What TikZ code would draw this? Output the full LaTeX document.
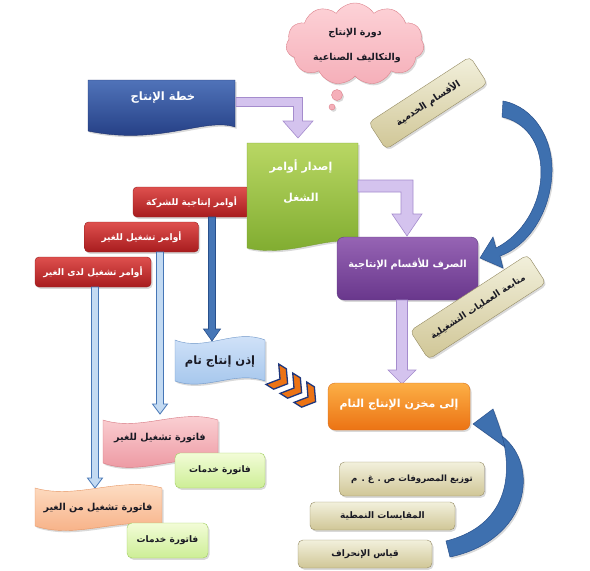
\documentclass[tikz,border=0pt]{standalone}
\usepackage{fontspec}
\newfontfamily\arfont[Script=Arabic]{DejaVu Sans}
\TeXXeTstate=1
\usetikzlibrary{shapes.symbols,shadows,calc}
\newcommand\AR[1]{\beginR #1\endR}
\definecolor{redT}{RGB}{222,80,78}\definecolor{redB}{RGB}{168,28,30}\definecolor{redD}{RGB}{150,30,30}
\definecolor{purT}{RGB}{150,100,180}\definecolor{purB}{RGB}{105,55,140}\definecolor{purD}{RGB}{95,60,130}
\definecolor{oraT}{RGB}{252,175,70}\definecolor{oraB}{RGB}{236,115,20}\definecolor{oraD}{RGB}{215,110,30}
\definecolor{grnT}{RGB}{185,215,100}\definecolor{grnB}{RGB}{125,170,45}\definecolor{grnD}{RGB}{120,160,50}
\definecolor{plaT}{RGB}{80,115,185}\definecolor{plaB}{RGB}{30,55,125}\definecolor{plaD}{RGB}{30,50,110}
\definecolor{lbT}{RGB}{215,230,250}\definecolor{lbB}{RGB}{160,195,235}\definecolor{lbD}{RGB}{110,150,200}
\definecolor{pkT}{RGB}{252,215,218}\definecolor{pkB}{RGB}{235,145,155}\definecolor{pkD}{RGB}{215,120,130}
\definecolor{peT}{RGB}{254,228,205}\definecolor{peB}{RGB}{246,170,125}\definecolor{peD}{RGB}{230,150,100}
\definecolor{lgT}{RGB}{242,252,215}\definecolor{lgB}{RGB}{205,238,150}\definecolor{lgD}{RGB}{160,205,95}
\definecolor{tnT}{RGB}{242,240,220}\definecolor{tnB}{RGB}{208,198,150}\definecolor{tnD}{RGB}{150,140,100}
\definecolor{clT}{RGB}{253,210,215}\definecolor{clB}{RGB}{245,175,185}\definecolor{clD}{RGB}{220,130,140}
\definecolor{lavF}{RGB}{212,195,238}\definecolor{lavD}{RGB}{165,140,205}
\definecolor{arcF}{RGB}{62,112,175}\definecolor{arcD}{RGB}{40,80,140}
\definecolor{dkA}{RGB}{70,118,182}\definecolor{liA}{RGB}{195,218,242}
\definecolor{txt}{RGB}{25,25,35}
\newcommand\blockdown[6]{% style, from, to, shaft half, head half, head length
  \path[#1] let \p1=(#2), \p2=(#3) in
    (\x2-#4,\y1) -- (\x2+#4,\y1) -- (\x2+#4,\y2+#6) -- (\x2+#5,\y2+#6) -- (\x2,\y2)
    -- (\x2-#5,\y2+#6) -- (\x2-#4,\y2+#6) -- cycle;}
\newcommand\blockbent[6]{% style, from, to, shaft half, head half, head length
  \path[#1] let \p1=(#2), \p2=(#3) in
    (\x1,\y1+#4) -- (\x2+#4,\y1+#4) -- (\x2+#4,\y2+#6) -- (\x2+#5,\y2+#6) -- (\x2,\y2)
    -- (\x2-#5,\y2+#6) -- (\x2-#4,\y2+#6) -- (\x2-#4,\y1-#4) -- (\x1,\y1-#4) -- cycle;}
\tikzset{
  shd/.style={drop shadow={opacity=0.3,shadow xshift=1.5pt,shadow yshift=-1.8pt}},
  fs/.style={font=\arfont\bfseries\fontsize{#1}{#1}\selectfont},
  artxt/.style={fs=9, text=txt, inner sep=0pt},
  wtxt/.style={artxt, text=white},
  redbox/.style={rounded corners=4pt, draw=redD, top color=redT, bottom color=redB, minimum height=30pt, shd, wtxt},
  purbox/.style={rounded corners=7pt, draw=purD, top color=purT, bottom color=purB, shd, wtxt},
  orabox/.style={rounded corners=7pt, draw=oraD, top color=oraT, bottom color=oraB, shd, wtxt},
  lgbox/.style={rounded corners=5pt, draw=lgD, top color=lgT, bottom color=lgB, shd, artxt},
  tanbox/.style={rounded corners=5pt, draw=tnD, top color=tnT, bottom color=tnB, shd, artxt},
  lav/.style={fill=lavF, draw=lavD, line width=0.6pt},
  darkarrow/.style={fill=dkA, draw=arcD, line width=0.6pt},
  lightarrow/.style={fill=liA, draw=dkA, line width=0.8pt},
  arc/.style={fill=arcF, draw=arcD, line width=0.5pt},
  chev/.style={fill=oraB, draw=plaB, line width=1.3pt, line join=miter},
}
\begin{document}
\begin{tikzpicture}[x=1pt,y=-1pt]
\useasboundingbox (0,0) rectangle (590,571);
% cloud
\node[cloud, cloud puffs=11, cloud puff arc=115, aspect=1.7, minimum width=138pt, minimum height=82pt,
      draw=clD, top color=clT, bottom color=clB, shd] (cloud) at (355,44) {};
\node[circle, minimum size=11pt, inner sep=0pt, draw=clD, fill=clB, shd] (bub1) at (337,95) {};
\node[circle, minimum size=6pt, inner sep=0pt, draw=clD, fill=clB, shd] (bub2) at (332,107) {};
\node[artxt, fs=9.5] (cl1) at (355,33) {\AR{دورة الإنتاج}};
\node[artxt, fs=9.5] (cl2) at (357,58) {\AR{والتكاليف الصناعية}};
% plan document
\path[draw=plaD, top color=plaT, bottom color=plaB, shd]
  (88,80) -- (235,80) -- (235,127) .. controls (205,117) and (160,146) .. (88,131) -- cycle;
\node[wtxt, fs=11.5] (plan) at (163,98) {\AR{خطة الإنتاج}};
\coordinate (a1s) at (236,102);
\coordinate (a1t) at (298,138);
\blockbent{lav}{a1s}{a1t}{4.5pt}{15pt}{17pt}
% red boxes
\node[redbox, minimum width=117pt] (r1) at (191.5,202) {\AR{أوامر إنتاجية للشركة}};
\node[redbox, minimum width=114pt] (r2) at (141.5,237) {\AR{أوامر تشغيل للغير}};
\node[redbox, minimum width=116pt] (r3) at (93,272) {\AR{أوامر تشغيل لدى الغير}};
% green document
\path[draw=grnD, top color=grnT, bottom color=grnB, shd]
  (247,143) -- (358,143) -- (358,243) .. controls (330,234) and (290,258) .. (247,248) -- cycle;
\node[wtxt, fs=11] (g1) at (301,166) {\AR{إصدار أوامر}};
\node[wtxt, fs=11] (g2) at (301,198) {\AR{الشغل}};
\coordinate (a2s) at (358,186);
\coordinate (a2t) at (407,236);
\blockbent{lav}{a2s}{a2t}{6pt}{15pt}{22pt}
% tilted tan 1
\node[tanbox, fs=9.5, rotate=33, minimum width=121pt, minimum height=32pt] (t1) at (428,103) {\AR{الأقسام الخدمية}};
% purple box
\node[purbox, minimum width=141pt, minimum height=63pt] (pur) at (407.5,268.5) {};
\node[wtxt, fs=9.8] (purt) at (407.5,264) {\AR{الصرف للأقسام الإنتاجية}};
% top blue arc
\path[arc, shd] (503,101) .. controls (535,107) and (553,140) .. (552,172)
  .. controls (551,210) and (530,245) .. (500,256)
  -- (503,268) -- (480,258) -- (493,237) -- (496,248)
  .. controls (522,235) and (541,205) .. (541,172)
  .. controls (541,142) and (525,122) .. (502,117) -- cycle;
% lavender down arrow
\coordinate (a3s) at (402,300);
\coordinate (a3t) at (402,384);
\blockdown{lav}{a3s}{a3t}{5.5pt}{14pt}{14pt}
% tilted tan 2
\node[tanbox, fs=9, rotate=33, minimum width=140pt, minimum height=34pt] (t2) at (478,307) {\AR{متابعة العمليات التشغيلية}};
% blue vertical arrows
\coordinate (vAs) at (212,217);\coordinate (vAt) at (212,341);
\coordinate (vBs) at (160,252);\coordinate (vBt) at (160,414);
\coordinate (vCs) at (95,287);\coordinate (vCt) at (95,488);
\blockdown{darkarrow}{vAs}{vAt}{3.5pt}{8.5pt}{12pt}
\blockdown{lightarrow}{vBs}{vBt}{3.5pt}{7.5pt}{10pt}
\blockdown{lightarrow}{vCs}{vCt}{3.5pt}{7.5pt}{10pt}
% light blue wave
\path[draw=lbD, top color=lbT, bottom color=lbB, shd]
  (175,340) .. controls (205,352) and (235,328) .. (265,340) -- (265,381)
  .. controls (235,370) and (205,392) .. (175,381) -- cycle;
\node[artxt, fs=11.5] (permit) at (220,362) {\AR{إذن إنتاج تام}};
% chevrons
\foreach \i/\cx/\cy in {1/280/379, 2/294/388, 3/308/397}{
  \draw[chev, shift={(\cx,\cy)}, rotate=-32] (-9,-12) -- (0,-12) -- (9,0) -- (0,12) -- (-9,12) -- (0,0) -- cycle;
}
% orange box
\node[orabox, minimum width=142pt, minimum height=47pt] (store) at (399,406.5) {};
\node[wtxt, fs=11] (storet) at (399,405) {\AR{إلى مخزن الإنتاج التام}};
% pink wave
\path[draw=pkD, top color=pkT, bottom color=pkB, shd]
  (103,420) .. controls (141,432) and (180,408) .. (218,420) -- (218,463)
  .. controls (180,452) and (141,477) .. (103,463) -- cycle;
\node[artxt, fs=9.6] (inv1) at (160,438) {\AR{فاتورة تشغيل للغير}};
\node[lgbox, minimum width=90pt, minimum height=35pt] (srv1) at (220,470.5) {\AR{فاتورة خدمات}};
% peach wave
\path[draw=peD, top color=peT, bottom color=peB, shd]
  (35,488) .. controls (77,500) and (120,476) .. (162,488) -- (162,526)
  .. controls (120,516) and (77,540) .. (35,526) -- cycle;
\node[artxt, fs=9.6] (inv2) at (98,508) {\AR{فاتورة تشغيل من الغير}};
\node[lgbox, minimum width=81pt, minimum height=35pt] (srv2) at (167.5,540.5) {\AR{فاتورة خدمات}};
% tan boxes
\node[tanbox, fs=8.6, minimum width=145pt, minimum height=34pt] (tb1) at (412,479) {\AR{توزيع المصروفات ص . غ . م}};
\node[tanbox, minimum width=145pt, minimum height=28pt] (tb2) at (382.5,516) {\AR{المقايسات النمطية}};
\node[tanbox, minimum width=134pt, minimum height=28pt] (tb3) at (365,554) {\AR{قياس الإنحراف}};
% bottom blue arc
\path[arc, shd] (450,557) .. controls (530,540) and (540,465) .. (502,436)
  -- (505,447) -- (473,424) -- (493,409) -- (497,420)
  .. controls (516,470) and (510,525) .. (446,541) -- cycle;
\end{tikzpicture}
\end{document}
